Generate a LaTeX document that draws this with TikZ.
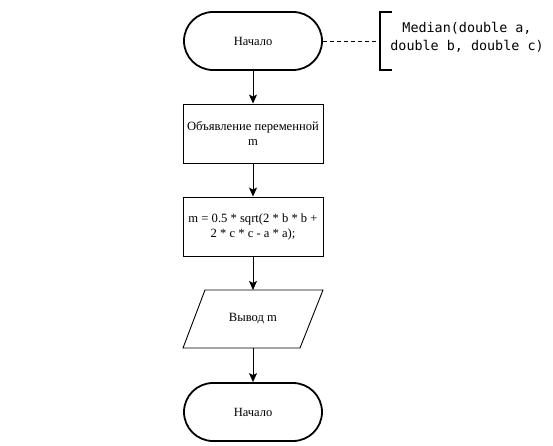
\documentclass[tikz,border=0pt]{standalone}
\usepackage{fontspec}
\setmainfont{Liberation Serif}
\newfontfamily\codefont{DejaVu Sans Mono}
\usetikzlibrary{arrows.meta,shapes.geometric}
\begin{document}
\begin{tikzpicture}[x=1pt,y=-1pt,
  term/.style={draw,line width=1.8pt,rounded corners=29pt,minimum width=138pt,minimum height=58pt,inner sep=0pt,font=\fontsize{12.5}{15}\selectfont},
  proc/.style={draw,line width=0.9pt,minimum width=140pt,minimum height=59pt,inner sep=0pt,align=center,font=\fontsize{12.6}{15}\selectfont},
  conn/.style={line width=0.9pt,-{Stealth[length=9pt,width=8pt,inset=2pt]}}]
\useasboundingbox (0,0) rectangle (553,446);
\node[term] (start) at (253,41) {Начало};
\node[proc] (decl) at (253,133.5) {Объявление переменной\\m};
\node[proc] (calc) at (253,226.5) {m = 0.5 * sqrt(2 * b * b +\\2 * c * c - a * a);};
\coordinate (p1) at (205,290);
\coordinate (p2) at (323,290);
\coordinate (p3) at (300,348);
\coordinate (p4) at (183,348);
\draw[line width=0.9pt] (p1) -- (p2) -- (p3) -- (p4) -- cycle;
\node[font=\fontsize{12.6}{15}\selectfont] (out) at (253,319) {Вывод m};
\node[term] (end) at (253,412) {Начало};
\coordinate (outtop) at (253,290);
\coordinate (outbot) at (253,348);
\draw[conn] (start.south) -- (decl.north);
\draw[conn] (decl.south) -- (calc.north);
\draw[conn] (calc.south) -- (outtop);
\draw[conn] (outbot) -- (end.north);
% annotation
\coordinate (bt) at (392,12);
\coordinate (bb) at (392,70);
\coordinate (bm) at (380,41);
\draw[line width=2.2pt] (bt) -- (380,12) -- (380,70) -- (bb);
\draw[line width=0.9pt,dashed,dash pattern=on 4pt off 3pt] (start.east) -- (bm);
\node[font=\codefont\fontsize{13.4}{18}\selectfont,align=center,inner sep=0pt] (note) at (467,37) {Median(double a,\\double b, double c)};
\end{tikzpicture}
\end{document}
